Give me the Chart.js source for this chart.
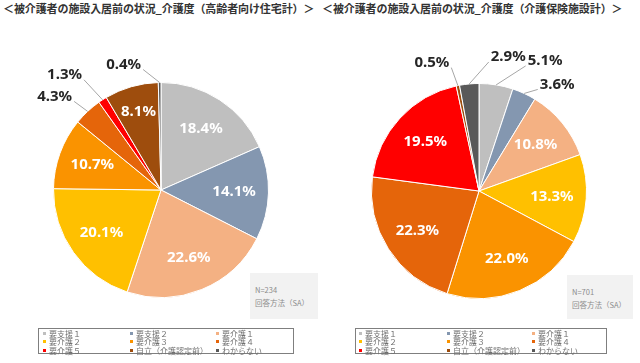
<!DOCTYPE html>
<html>
<head>
<meta charset="utf-8">
<script src="https://cdn.jsdelivr.net/npm/chart.js@4/dist/chart.umd.min.js"></script>
<style>
  body { margin: 0; background: #fff; }
  #page { position: relative; width: 640px; height: 363px; overflow: hidden; font-family: "Noto Sans CJK JP", "Noto Sans", sans-serif; }
  .panel { position: absolute; top: 0; width: 320px; height: 363px; }
  .panel canvas { position: absolute; left: 0; top: 0; }
  .title { position: absolute; top: 0px; font-size: 11px; font-weight: bold; color: #333; white-space: nowrap; letter-spacing: -0.1px; }
  .note { position: absolute; background: #f2f2f2; color: #8c8c8c; font-size: 7.5px; line-height: 13px; padding: 10px 0 0 5px; box-sizing: border-box; }
  .legend { position: absolute; top: 328px; height: 26px; border: 1px solid #7f7f7f; box-sizing: border-box; }
  .legend span { position: absolute; font-size: 8px; line-height: 8px; color: #707070; white-space: nowrap; }
  .legend i { display: inline-block; width: 3px; height: 3px; margin-right: 3px; vertical-align: 2px; }
</style>
</head>
<body>
<div id="page">
  <div class="panel" style="left:0">
    <div class="title" style="left:3px">＜被介護者の施設入居前の状況_介護度（高齢者向け住宅計）＞</div>
    <canvas id="housing" width="320" height="363"></canvas>
    <div class="note" style="left:250px;top:273px;width:68px;height:46px">N=234<br>回答方法（SA）</div>
    <div class="legend" id="legend-housing" style="left:38px;width:256px"></div>
  </div>
  <div class="panel" style="left:320px">
    <div class="title" style="left:2px">＜被介護者の施設入居前の状況_介護度（介護保険施設計）＞</div>
    <canvas id="care" width="320" height="363"></canvas>
    <div class="note" style="left:247px;top:275px;width:66px;height:44px">N=701<br>回答方法（SA）</div>
    <div class="legend" id="legend-care" style="left:35px;width:252px"></div>
  </div>
</div>
<script>
const categories = ['要支援１', '要支援２', '要介護１', '要介護２', '要介護３', '要介護４', '要介護５', '自立（介護認定前）', 'わからない'];
const housingValues = [18.4, 14.1, 22.6, 20.1, 10.7, 4.3, 1.3, 8.1, 0.4];
const careValues = [5.1, 3.6, 10.8, 13.3, 22.0, 22.3, 19.5, 0.5, 2.9];

const sliceColors = ['#bfbfbf', '#8497b0', '#f4b183', '#ffc000', '#fa9300', '#e5650a', '#ff0000', '#9e4d0d', '#595959'];

// small slices get their label outside, offset from the slice edge
const housingOutside = { 5: [-33, -15], 6: [-38, -25], 8: [-36, -18] };
const careOutside = { 0: [49, -24], 1: [33, -9], 7: [-26, -23], 8: [39, -27] };

const pieLabels = {
  id: 'pieLabels',
  afterDatasetsDraw(chart, args, opts) {
    const ctx = chart.ctx;
    const meta = chart.getDatasetMeta(0);
    const values = chart.data.datasets[0].data;
    meta.data.forEach((arc, i) => {
      const p = arc.getProps(['x', 'y', 'startAngle', 'endAngle', 'outerRadius'], true);
      const mid = (p.startAngle + p.endAngle) / 2;
      const text = values[i].toFixed(1) + '%';
      const off = opts.outside[i];
      ctx.save();
      ctx.font = 'bold 15px "Noto Sans"';
      ctx.textAlign = 'center';
      ctx.textBaseline = 'middle';
      if (off) {
        const ex = p.x + Math.cos(mid) * p.outerRadius;
        const ey = p.y + Math.sin(mid) * p.outerRadius;
        const lx = ex + off[0];
        const ly = ey + off[1];
        const w = ctx.measureText(text).width;
        const sx = lx + (off[0] < 0 ? w / 2 + 2 : -w / 2 - 2);
        ctx.strokeStyle = '#a6a6a6';
        ctx.lineWidth = 1;
        ctx.beginPath();
        ctx.moveTo(sx, ly + 5);
        ctx.lineTo(ex, ey);
        ctx.stroke();
        ctx.fillStyle = '#262626';
        ctx.fillText(text, lx, ly);
      } else {
        // thin slices sit their label a bit further out
        const r = p.outerRadius * (values[i] < 10 ? 0.76 : 0.68);
        ctx.fillStyle = '#ffffff';
        ctx.fillText(text, p.x + Math.cos(mid) * r, p.y + Math.sin(mid) * r);
      }
      ctx.restore();
    });
  }
};

function makePie(id, values, outside, padding) {
  return new Chart(document.getElementById(id), {
    type: 'pie',
    data: {
      labels: categories,
      datasets: [{
        data: values,
        backgroundColor: sliceColors,
        borderColor: '#ffffff',
        borderWidth: 1,
        hoverOffset: 0,
      }],
    },
    options: {
      responsive: false,
      animation: false,
      layout: { padding: padding },
      plugins: {
        legend: { display: false },
        tooltip: { enabled: false },
        pieLabels: { outside: outside },
      },
    },
    plugins: [pieLabels],
  });
}

function makeLegend(id, chart, cols) {
  const box = document.getElementById(id);
  const ds = chart.data.datasets[0];
  chart.data.labels.forEach((label, i) => {
    const s = document.createElement('span');
    s.style.left = cols[i % 3] + 'px';
    s.style.top = (1 + Math.floor(i / 3) * 8.3) + 'px';
    s.innerHTML = '<i style="background:' + ds.backgroundColor[i] + '"></i>' + label;
    box.appendChild(s);
  });
}

const housingChart = makePie('housing', housingValues, housingOutside, { left: 53, right: 51, top: 82, bottom: 65 });
const careChart = makePie('care', careValues, careOutside, { left: 51, right: 53, top: 83, bottom: 64 });
makeLegend('legend-housing', housingChart, [4, 91, 177]);
makeLegend('legend-care', careChart, [3, 91, 176]);
</script>
</body>
</html>
